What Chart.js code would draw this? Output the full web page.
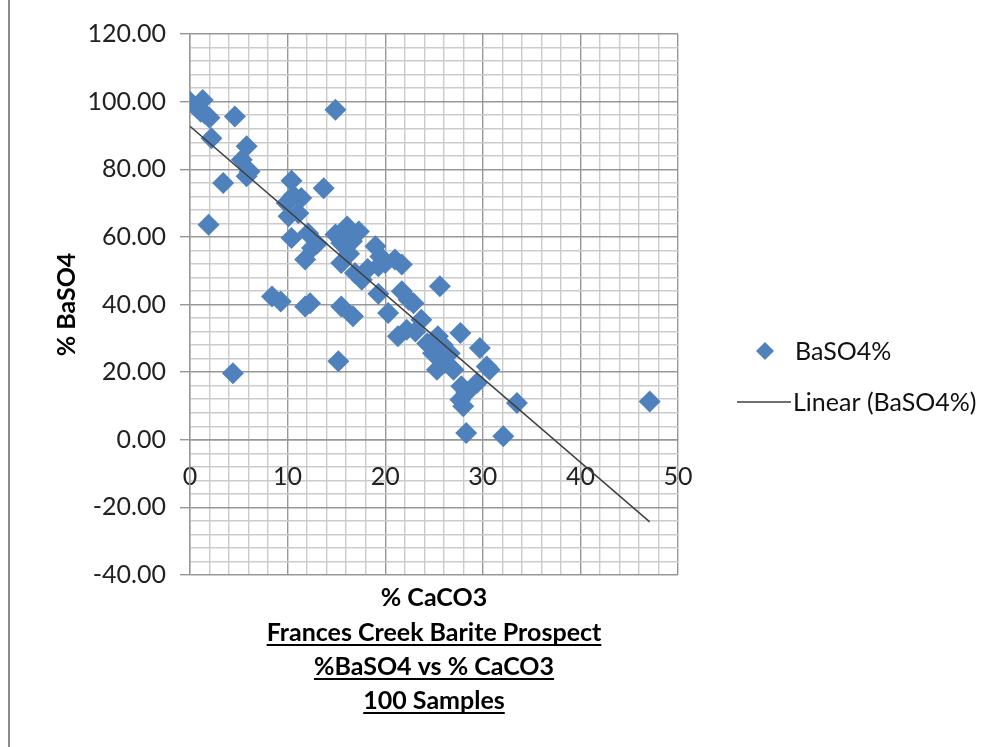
<!DOCTYPE html>
<html>
<head>
<meta charset="utf-8">
<title>Frances Creek Barite Prospect</title>
<script src="https://cdn.jsdelivr.net/npm/chart.js@4.4.1/dist/chart.umd.min.js"></script>
<style>
html, body { margin: 0; padding: 0; background: #fff; }
</style>
</head>
<body>
<canvas id="chart" width="1000" height="747"></canvas>
<script>
// sample values (% CaCO3 vs % BaSO4)
const caco3 = [0, 0.6, 1.3, 1.1, 2.0, 1.5, 4.6, 2.2, 5.8, 5.3, 5.8, 3.4, 1.9, 4.4, 14.9,
  10.4, 13.7, 10.6, 11.4, 9.9, 10.1, 11.1, 10.4, 12.1, 12.5, 11.8, 14.9, 16.1, 17.3, 15.5,
  16.6, 15.5, 16.9, 17.6, 19.0, 19.5, 20.0, 21.0, 21.7, 19.3, 25.6, 8.4, 9.3, 12.3, 11.8,
  15.5, 16.7, 19.3, 21.7, 22.4, 20.3, 23.7, 21.3, 22.2, 23.1, 25.4, 27.7, 24.9, 26.6, 29.7,
  25.3, 26.1, 30.7, 30.4, 29.4, 28.3, 27.7, 28.0, 33.5, 28.3, 32.1, 27.0, 27.8, 15.2, 47.1,
  22.9, 16.3, 18.2, 13.0, 24.3, 6.1, 25.9];
const baso4 = [100, 98.5, 100.5, 97, 95.2, 96.5, 95.6, 89.2, 86.8, 82.8, 77.9, 75.9, 63.6, 19.7, 97.6,
  76.6, 74.4, 72.2, 71.5, 70, 66.1, 67, 59.7, 61.1, 56.7, 53.3, 60.7, 63.1, 61.6, 58.2,
  58.7, 52.3, 49.3, 47.3, 57.2, 54.2, 52.3, 53.3, 51.8, 51.3, 45.4, 42.4, 40.9, 40.4, 39.4,
  39.4, 36.5, 43.2, 43.9, 41.4, 37.5, 35.5, 30.6, 32.5, 32, 30.6, 31.6, 25.6, 25.6, 27.1,
  20.7, 22.7, 20.7, 21.7, 16.8, 13.8, 11.8, 9.9, 10.9, 2.0, 1.0, 20.7, 15.8, 23.2, 11.3,
  40.4, 55, 50.5, 58, 28.5, 79.3, 28];

// Excel linear trendline end points
const trendX = [0, 47.1];
const trendY = [92.7, -24.3];

const xLabels = [0, 10, 20, 30, 40, 50];
const yLabels = [-40, -20, 0, 20, 40, 60, 80, 100, 120];

const titleLines = ['% CaCO3', 'Frances Creek Barite Prospect', '%BaSO4 vs % CaCO3', '100 Samples'];

const FONT = 'Lato, "Open Sans", sans-serif';
const MAJOR = '#979797';
const MINOR = '#cbcbcb';

const points = caco3.map((x, i) => ({ x: x, y: baso4[i] }));
const trend = trendX.map((x, i) => ({ x: x, y: trendY[i] }));

const extras = {
  id: 'extras',
  beforeDraw(chart) {
    const ctx = chart.ctx;
    ctx.save();
    ctx.strokeStyle = '#8a8a8a';
    ctx.lineWidth = 2;
    ctx.beginPath();
    ctx.moveTo(9, 0);
    ctx.lineTo(9, chart.height);
    ctx.stroke();
    ctx.restore();
  },
  afterDraw(chart) {
    const ctx = chart.ctx;
    const area = chart.chartArea;
    const cx = (area.left + area.right) / 2;
    ctx.save();
    ctx.fillStyle = '#000';
    ctx.strokeStyle = '#000';
    ctx.textAlign = 'center';
    ctx.textBaseline = 'alphabetic';
    ctx.font = 'bold 25px ' + FONT;
    const ys = [606, 641, 675, 709];
    titleLines.forEach((t, i) => {
      ctx.fillText(t, cx, ys[i]);
      if (i > 0) {
        const w = ctx.measureText(t).width;
        ctx.lineWidth = 1.8;
        ctx.beginPath();
        ctx.moveTo(cx - w / 2, ys[i] + 4);
        ctx.lineTo(cx + w / 2, ys[i] + 4);
        ctx.stroke();
      }
    });

    // legend
    const sc = chart.data.datasets[0];
    const tr = chart.data.datasets[1];
    ctx.font = '25px ' + FONT;
    ctx.textAlign = 'left';
    ctx.textBaseline = 'middle';
    ctx.fillStyle = sc.backgroundColor;
    ctx.beginPath();
    ctx.moveTo(765 - 9, 351);
    ctx.lineTo(765, 351 - 9);
    ctx.lineTo(765 + 9, 351);
    ctx.lineTo(765, 351 + 9);
    ctx.closePath();
    ctx.fill();
    ctx.fillStyle = '#111';
    ctx.fillText(sc.label, 795, 352);
    ctx.strokeStyle = tr.borderColor;
    ctx.lineWidth = tr.borderWidth;
    ctx.beginPath();
    ctx.moveTo(737, 402);
    ctx.lineTo(791, 402);
    ctx.stroke();
    ctx.fillText(tr.label, 793, 403);
    ctx.restore();
  }
};

new Chart(document.getElementById('chart'), {
  type: 'scatter',
  data: {
    datasets: [{
      label: 'BaSO4%',
      data: points,
      pointStyle: 'rectRot',
      pointRadius: 11,
      pointHoverRadius: 11,
      backgroundColor: '#4f81bd',
      borderWidth: 0,
      order: 2
    }, {
      type: 'line',
      label: 'Linear (BaSO4%)',
      data: trend,
      borderColor: '#404040',
      borderWidth: 1.5,
      pointRadius: 0,
      fill: false,
      order: 1
    }]
  },
  options: {
    responsive: false,
    animation: false,
    layout: { padding: { top: 34, right: 322, bottom: 172, left: 0 } },
    plugins: { legend: { display: false }, tooltip: { enabled: false } },
    scales: {
      x: {
        type: 'linear',
        position: { y: 0 },
        min: 0,
        max: 50,
        ticks: {
          stepSize: 2,
          autoSkip: false,
          maxRotation: 0,
          padding: 22,
          color: '#222',
          font: { family: FONT, size: 25 },
          callback: v => xLabels.includes(Math.round(v)) ? String(Math.round(v)) : ''
        },
        grid: {
          drawTicks: false,
          lineWidth: 1.4,
          color: c => (c.tick && Math.round(c.tick.value) % 10 === 0) ? MAJOR : MINOR
        },
        border: { color: MAJOR, width: 1.4 }
      },
      y: {
        type: 'linear',
        min: -40,
        max: 120,
        afterFit: s => { s.width = 190; },
        ticks: {
          stepSize: 4,
          autoSkip: false,
          padding: 14,
          color: '#222',
          font: { family: FONT, size: 25 },
          callback: v => yLabels.includes(Math.round(v)) ? Math.round(v).toFixed(2) : ''
        },
        grid: {
          tickLength: 10,
          lineWidth: 1.4,
          color: c => (c.tick && Math.round(c.tick.value) % 20 === 0) ? MAJOR : MINOR,
          tickColor: c => (c.tick && Math.round(c.tick.value) % 20 === 0) ? MAJOR : 'rgba(0,0,0,0)'
        },
        border: { color: MAJOR, width: 1.4 },
        title: {
          display: true,
          text: '% BaSO4',
          color: '#000',
          font: { family: FONT, size: 25, weight: 'bold' },
          padding: { top: 52, bottom: 0 }
        }
      }
    }
  },
  plugins: [extras]
});
</script>
</body>
</html>
